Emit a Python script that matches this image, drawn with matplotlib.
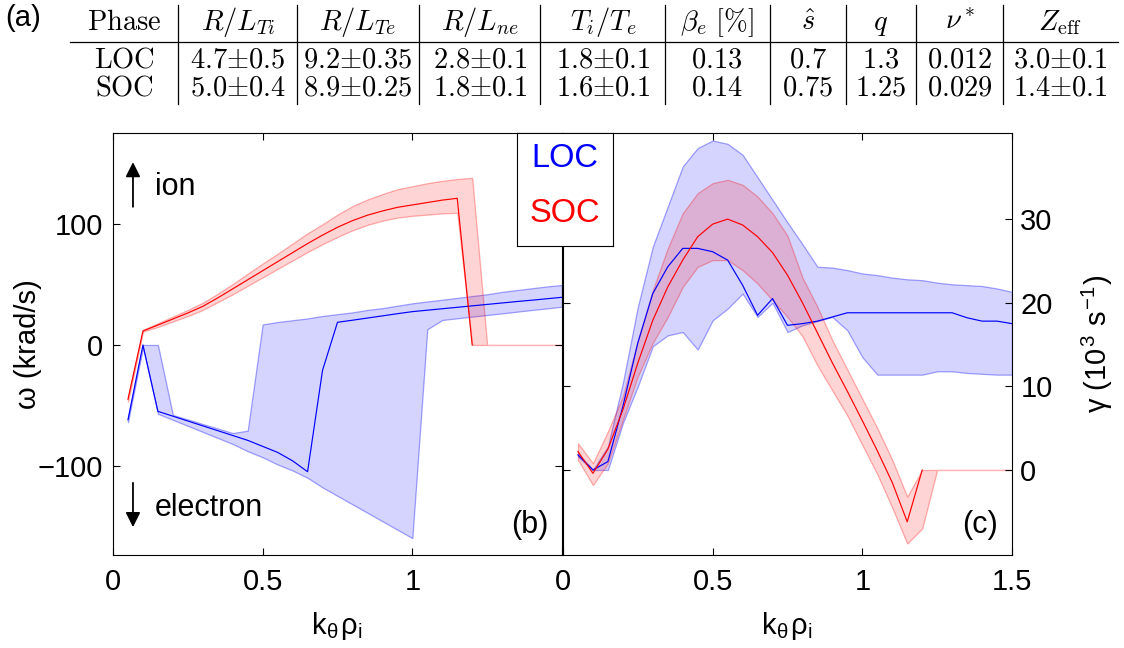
import numpy as np
import matplotlib
matplotlib.use('Agg')
import matplotlib.pyplot as plt
from matplotlib.lines import Line2D

plt.rcParams['font.family'] = ['Liberation Sans', 'DejaVu Sans']
plt.rcParams['mathtext.fontset'] = 'cm'

nan = np.nan

# k_theta rho_i grid
k = [0.05, 0.10, 0.15, 0.20, 0.25, 0.30, 0.35, 0.40, 0.45, 0.50,
     0.55, 0.60, 0.65, 0.70, 0.75, 0.80, 0.85, 0.90, 0.95, 1.00,
     1.05, 1.10, 1.15, 1.20, 1.25, 1.30, 1.35, 1.40, 1.45, 1.50]
k_ticks = [0, 0.5, 1, 1.5]
k_labels = ['0', '0.5', '1', '1.5']

# (b) real frequency omega (krad/s)
omega_loc = [-62, 0, -55, -59, -63, -67, -71, -75, -79, -84,
             -89, -96, -105, -21, 18.8, 20.5, 22.3, 24.1, 25.9, 27.6,
             28.8, 30.0, 31.2, 32.4, 33.6, 34.8, 36.0, 37.1, 38.3, 39.5]
omega_loc_hi = [-60, 0, 0, -58, -61.7, -65.5, -69.2, -73, -71, 17,
                19, 20.5, 22, 24, 25.5, 27, 29, 30.5, 32.5, 34.5,
                36, 37.5, 39, 40.5, 42, 44, 45.5, 47, 48.5, 49.7]
omega_loc_lo = [-64, -2, -57, -62, -67, -72, -77, -82, -88, -93,
                -99, -104, -110, -118, -125, -132, -139, -146, -153, -160,
                13, 20.7, 22.1, 23.5, 24.8, 26.2, 27.6, 29.0, 30.3, 31.7]

omega_soc = [-45, 11.6, 16.5, 21.5, 26.5, 32, 39, 46.5, 54, 61.5,
             69, 76.5, 84, 91, 97.5, 103, 107.5, 111, 114, 116,
             118, 120, 121.5, 0, nan, nan, nan, nan, nan, nan]
omega_soc_hi = [-43, 12.5, 18, 23.5, 29, 35, 42.5, 50.5, 59, 67.5,
                75.5, 84, 92.5, 100, 108, 115, 120.5, 125, 129, 131.5,
                134, 136, 137.5, 138.5, 0, 0, 0, 0, 0, 0]
omega_soc_lo = [-47, 11, 15, 19.5, 24, 29, 35.5, 42, 49, 56,
                63, 70, 77, 83.5, 89.5, 95, 99.5, 103, 105.5, 107,
                108, 109, 109.5, 0, 0, 0, 0, 0, 0, 0]

# (c) growth rate gamma (10^3 s^-1)
gamma_loc = [1.8, 0, 1.0, 7.6, 15.2, 21.1, 24.3, 26.5, 26.5, 26.1,
             25.1, 22.1, 18.5, 20.5, 17.3, 17.5, 17.8, 18.3, 18.8, 18.8,
             18.8, 18.8, 18.8, 18.8, 18.8, 18.8, 18.2, 17.8, 17.8, 17.5]
gamma_loc_hi = [2.0, 0, 2.8, 10.4, 19.5, 26.7, 31.5, 36.3, 38.5, 39.4,
                39.0, 37.7, 35.0, 32.3, 29.6, 27.0, 24.3, 24.2, 23.9, 23.5,
                23.3, 23.0, 22.8, 22.7, 22.4, 22.2, 22.1, 22.0, 21.7, 21.3]
gamma_loc_lo = [1.6, 0, 0, 5.6, 10.0, 14.8, 16.1, 16.5, 14.4, 17.9,
                19.3, 21.1, 18.3, 20.0, 16.5, 17.3, 17.8, 18.3, 16.7, 13.5,
                11.4, 11.4, 11.4, 11.4, 11.8, 11.8, 11.6, 11.5, 11.4, 11.4]

gamma_soc = [2.2, -0.4, 2.5, 7.2, 12.8, 17.9, 21.9, 25.1, 27.9, 29.4,
             30.0, 29.3, 27.9, 26.0, 23.3, 20.0, 16.4, 12.8, 9.4, 5.9,
             2.3, -1.5, -6.2, 0, nan, nan, nan, nan, nan, nan]
gamma_soc_hi = [3.2, 0.8, 4.6, 8.8, 15.5, 21.5, 26.5, 30.7, 33.1, 34.3,
                34.7, 34.1, 32.7, 30.7, 28.0, 23.0, 19.5, 15.5, 12.0, 8.5,
                5.0, 1.2, -3.2, 0, 0, 0, 0, 0, 0, 0]
gamma_soc_lo = [1.2, -1.8, 0.8, 6.0, 11.2, 15.2, 18.3, 21.9, 24.3, 25.1,
                25.1, 23.9, 22.3, 20.3, 18.3, 16.0, 12.5, 9.5, 6.5, 3.0,
                -0.5, -4.5, -8.8, -7.0, 0, 0, 0, 0, 0, 0]

# (a) table
table_cols = [r'\mathrm{Phase}', r'R/L_{Ti}', r'R/L_{Te}', r'R/L_{ne}', r'T_i/T_e',
              r'\beta_e\ [\%]', r'\hat{s}', r'q', r'\nu^*', r'Z_\mathrm{eff}']
row_loc = ['LOC', '4.7±0.5', '9.2±0.35', '2.8±0.1', '1.8±0.1', '0.13', '0.7', '1.3', '0.012', '3.0±0.1']
row_soc = ['SOC', '5.0±0.4', '8.9±0.25', '1.8±0.1', '1.6±0.1', '0.14', '0.75', '1.25', '0.029', '1.4±0.1']

W, H = 1124, 648
fig = plt.figure(figsize=(W / 100, H / 100), dpi=100)


def fx(px):
    return px / W


def fy(py):
    return 1 - py / H


blue = (0, 0, 1)
red = (1, 0, 0)

ax1 = fig.add_axes([fx(113), fy(555), 449 / W, 422 / H])
ax2 = fig.add_axes([fx(563), fy(555), 449 / W, 422 / H])

for ax, yl, yc, yh, rl, rc, rh in [
        (ax1, omega_loc_lo, omega_loc, omega_loc_hi, omega_soc_lo, omega_soc, omega_soc_hi),
        (ax2, gamma_loc_lo, gamma_loc, gamma_loc_hi, gamma_soc_lo, gamma_soc, gamma_soc_hi)]:
    ax.fill_between(k, yl, yh, facecolor=blue + (0.17,), edgecolor=blue + (0.35,), linewidth=0.9)
    ax.fill_between(k, rl, rh, facecolor=red + (0.17,), edgecolor=red + (0.3,), linewidth=0.9)
    ax.plot(k, yc, color=blue, lw=0.85)
    ax.plot(k, rc, color=red, lw=0.85)
    ax.set_xlim(0, 1.5)
    ax.set_xticks(k_ticks)
    ax.set_xticklabels(k_labels)
    ax.tick_params(direction='in', length=5, width=0.8, top=True, labelsize=21)
    ax.tick_params(axis='x', pad=9)
    for s in ax.spines.values():
        s.set_linewidth(0.8)
    ax.set_xlabel(r'k$_\mathregular{θ}$ρ$_\mathregular{i}$', fontsize=21)
    ax.xaxis.set_label_coords(0.5, -0.131)

ax1.set_xticklabels(k_labels[:3] + [''])
ax1.set_ylim(-174, 175.6)
ax1.set_yticks([-100, 0, 100])
ax1.tick_params(axis='y', right=True, pad=7)
ax1.set_ylabel('ω (krad/s)', fontsize=21)
ax1.yaxis.set_label_coords(-0.158, 0.5)

ax2.set_ylim(-10.17, 40.3)
ax2.set_yticks([0, 10, 20, 30])
ax2.yaxis.tick_right()
ax2.tick_params(axis='y', left=True, right=True, labelleft=False, labelright=True, pad=6)
ax2.yaxis.set_label_position('right')
ax2.set_ylabel(r'γ (10$^\mathregular{3}$ s$^\mathregular{−1}$)', fontsize=21)
ax2.yaxis.set_label_coords(1.151, 0.5)

# ion / electron direction hints
arrow = dict(arrowstyle='-|>', color='k', lw=1.3, mutation_scale=22, shrinkA=0, shrinkB=0)
ax1.annotate('', xy=(0.0445, 0.931), xytext=(0.0445, 0.825), xycoords='axes fraction', arrowprops=arrow)
ax1.annotate('', xy=(0.0445, 0.066), xytext=(0.0445, 0.171), xycoords='axes fraction', arrowprops=arrow)
ax1.text(0.0935, 0.872, 'ion', transform=ax1.transAxes, fontsize=22, va='center')
ax1.text(0.0935, 0.112, 'electron', transform=ax1.transAxes, fontsize=22, va='center')
ax1.text(0.969, 0.071, '(b)', transform=ax1.transAxes, fontsize=22, ha='right', va='center')
ax2.text(0.969, 0.071, '(c)', transform=ax2.transAxes, fontsize=22, ha='right', va='center')

# legend box
lg = fig.add_axes([fx(516.7), fy(245.7), 96 / W, 112.7 / H])
lg.set_xticks([])
lg.set_yticks([])
for s in lg.spines.values():
    s.set_linewidth(0.8)
lg.text(0.5, 0.778, 'LOC', color=blue, fontsize=23.5, ha='center', va='center', transform=lg.transAxes)
lg.text(0.5, 0.29, 'SOC', color=red, fontsize=23.5, ha='center', va='center', transform=lg.transAxes)

# table (a)
fig.text(fx(5), fy(18), '(a)', fontsize=21, va='center')
col_x = [124, 238, 358, 480, 603, 717, 808, 881, 960, 1060]
sep_x = [178, 297, 419, 540, 665, 770, 846, 916, 1003]


def mt(s):
    return '$' + s.replace('±', '{\\pm}') + '$'


for cx, head, a, b in zip(col_x, table_cols, row_loc, row_soc):
    fig.text(fx(cx), fy(30), '$' + head + '$', fontsize=20.5, ha='center', va='baseline', math_fontfamily='cm')
    if a in ('LOC', 'SOC'):
        a, b = r'\mathrm{' + a + '}', r'\mathrm{' + b + '}'
    fig.text(fx(cx), fy(67), mt(a), fontsize=20.5, ha='center', va='baseline', math_fontfamily='cm')
    fig.text(fx(cx), fy(95), mt(b), fontsize=20.5, ha='center', va='baseline', math_fontfamily='cm')

fig.add_artist(Line2D([fx(70), fx(1118)], [fy(41.7), fy(41.7)], color='k', lw=0.9, transform=fig.transFigure))
for sx in sep_x:
    fig.add_artist(Line2D([fx(sx), fx(sx)], [fy(5), fy(104)], color='k', lw=0.9, transform=fig.transFigure))

fig.savefig('out.png', dpi=100)
